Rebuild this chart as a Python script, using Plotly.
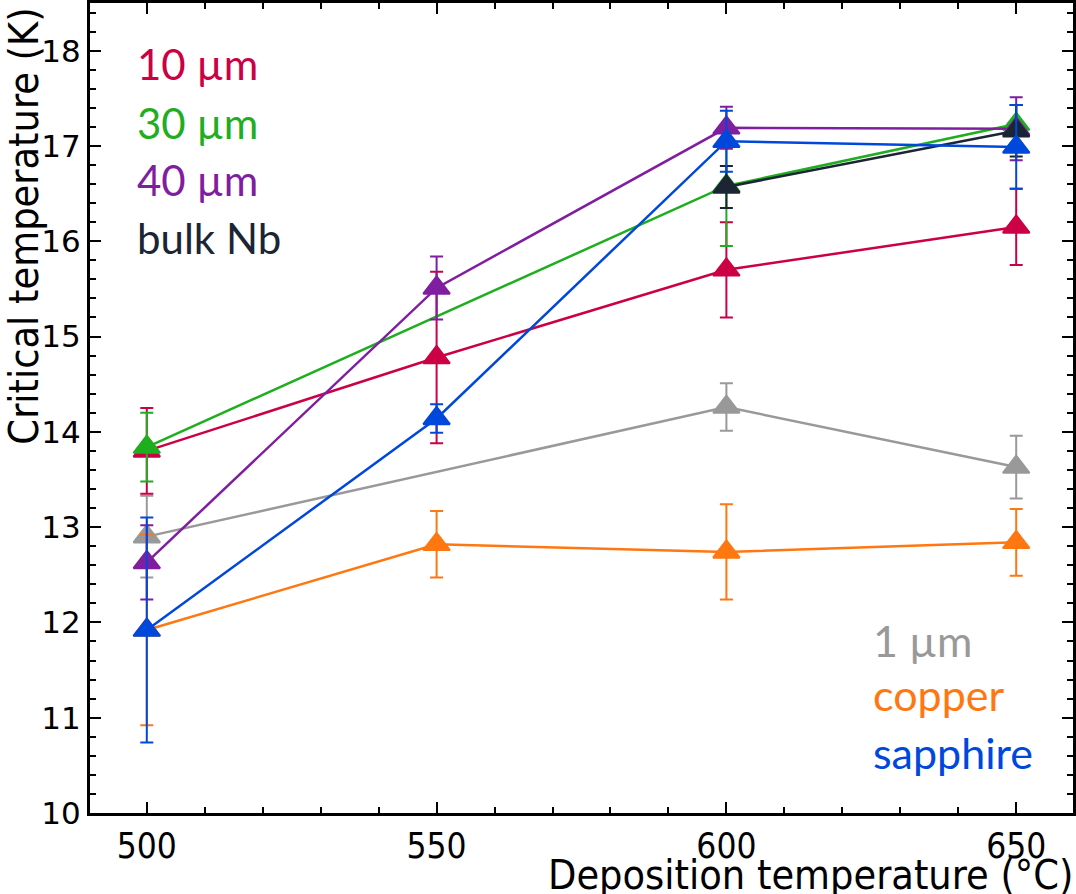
import plotly.graph_objects as go

# ---- data ----
x_all = [500, 550, 600, 650]

tc_10um = [13.80, 14.78, 15.70, 16.15]
err_10um = [0.45, 0.90, 0.50, 0.40]

x_30um = [500, 600, 650]
tc_30um = [13.84, 16.58, 17.23]
err_30um = [0.36, 0.63, 0.20]

tc_40um = [12.63, 15.51, 17.19, 17.18]
err_40um = [0.39, 0.33, 0.22, 0.33]

x_bulk = [600, 650]
tc_bulk = [16.57, 17.16]
err_bulk = [0.22, 0.27]

x_1um = [500, 600, 650]
tc_1um = [12.90, 14.26, 13.63]
err_1um = [0.43, 0.25, 0.33]

tc_copper = [11.92, 12.82, 12.74, 12.84]
err_copper = [1.00, 0.35, 0.50, 0.35]

tc_sapphire = [11.92, 14.14, 17.05, 16.99]
err_sapphire = [1.18, 0.15, 0.32, 0.44]

x_ticks = [500, 550, 600, 650]
y_ticks = [10, 11, 12, 13, 14, 15, 16, 17, 18]

C_RED = "#cc0044"
C_GREEN = "#1fae1f"
C_PURPLE = "#7f1f9f"
C_BULK = "#1b2533"
C_GRAY = "#999999"
C_ORANGE = "#ff7710"
C_BLUE = "#0048dc"

series = [
    ("1 µm", x_1um, tc_1um, err_1um, C_GRAY),
    ("copper", x_all, tc_copper, err_copper, C_ORANGE),
    ("10 µm", x_all, tc_10um, err_10um, C_RED),
    ("30 µm", x_30um, tc_30um, err_30um, C_GREEN),
    ("40 µm", x_all, tc_40um, err_40um, C_PURPLE),
    ("bulk Nb", x_bulk, tc_bulk, err_bulk, C_BULK),
    ("sapphire", x_all, tc_sapphire, err_sapphire, C_BLUE),
]

fig = go.Figure()
for name, xs, ys, es, col in series:
    fig.add_trace(go.Scatter(
        x=xs, y=ys, name=name, mode="lines+markers",
        line=dict(color=col, width=2.5),
        marker=dict(symbol="triangle-up", size=23, color=col,
                    line=dict(color=col, width=2)),
        error_y=dict(type="data", array=es, visible=True, color=col,
                     thickness=2, width=6.5),
        showlegend=False,
    ))

LABEL_FONT = "Lato, Carlito, Open Sans, sans-serif"
AX_FONT = "DejaVu Sans Condensed, Liberation Sans Narrow, DejaVu Sans"
labels_left = [("10 µm", 17.86, C_RED), ("30 µm", 17.24, C_GREEN),
               ("40 µm", 16.64, C_PURPLE), ("bulk Nb", 16.03, C_BULK)]
labels_right = [("1 µm", 11.81, C_GRAY), ("copper", 11.24, C_ORANGE),
                ("sapphire", 10.64, C_BLUE)]
for txt, yy, col in labels_left:
    fig.add_annotation(x=497.9, y=yy, text=txt, showarrow=False,
                       xanchor="left", yanchor="middle",
                       font=dict(family=LABEL_FONT, size=42, color=col))
for txt, yy, col in labels_right:
    fig.add_annotation(x=624.9, y=yy, text=txt, showarrow=False,
                       xanchor="left", yanchor="middle",
                       font=dict(family=LABEL_FONT, size=43, color=col))

# axis titles placed as in the reference (not centred on the plot)
fig.add_annotation(xref="paper", yref="paper", x=1.002, y=-0.0765,
                   text="Deposition temperature (°C)",
                   showarrow=False, xanchor="right", yanchor="middle",
                   font=dict(family=AX_FONT, size=41, color="black"))
fig.add_annotation(xref="paper", yref="paper", x=-0.067, y=0.9963,
                   text="Critical temperature (K)",
                   showarrow=False, textangle=-90, xanchor="center", yanchor="top",
                   font=dict(family=AX_FONT, size=41, color="black"))

fig.update_xaxes(
    range=[490.2, 659.8], tickvals=x_ticks, ticktext=[str(v) for v in x_ticks],
    ticks="inside", ticklen=11, tickwidth=2, tickcolor="black",
    minor=dict(ticks="inside", dtick=10, ticklen=6, tickwidth=1.5, tickcolor="black"),
    showline=True, linecolor="black", linewidth=3, mirror="allticks",
    showgrid=False, zeroline=False,
    tickfont=dict(family=AX_FONT, size=35, color="black"),
)
fig.update_yaxes(
    range=[10, 18.5], tickvals=y_ticks, ticktext=[str(v) for v in y_ticks],
    ticks="inside", ticklen=11, tickwidth=2, tickcolor="black",
    minor=dict(ticks="inside", dtick=0.2, ticklen=6, tickwidth=1.5, tickcolor="black"),
    showline=True, linecolor="black", linewidth=3, mirror="allticks",
    showgrid=False, zeroline=False,
    tickfont=dict(family="DejaVu Sans", size=31, color="black"),
)

fig.update_layout(
    width=1076, height=894,
    margin=dict(l=90, r=0, t=2, b=81),
    plot_bgcolor="white", paper_bgcolor="white",
)

fig.write_html("out.html")
